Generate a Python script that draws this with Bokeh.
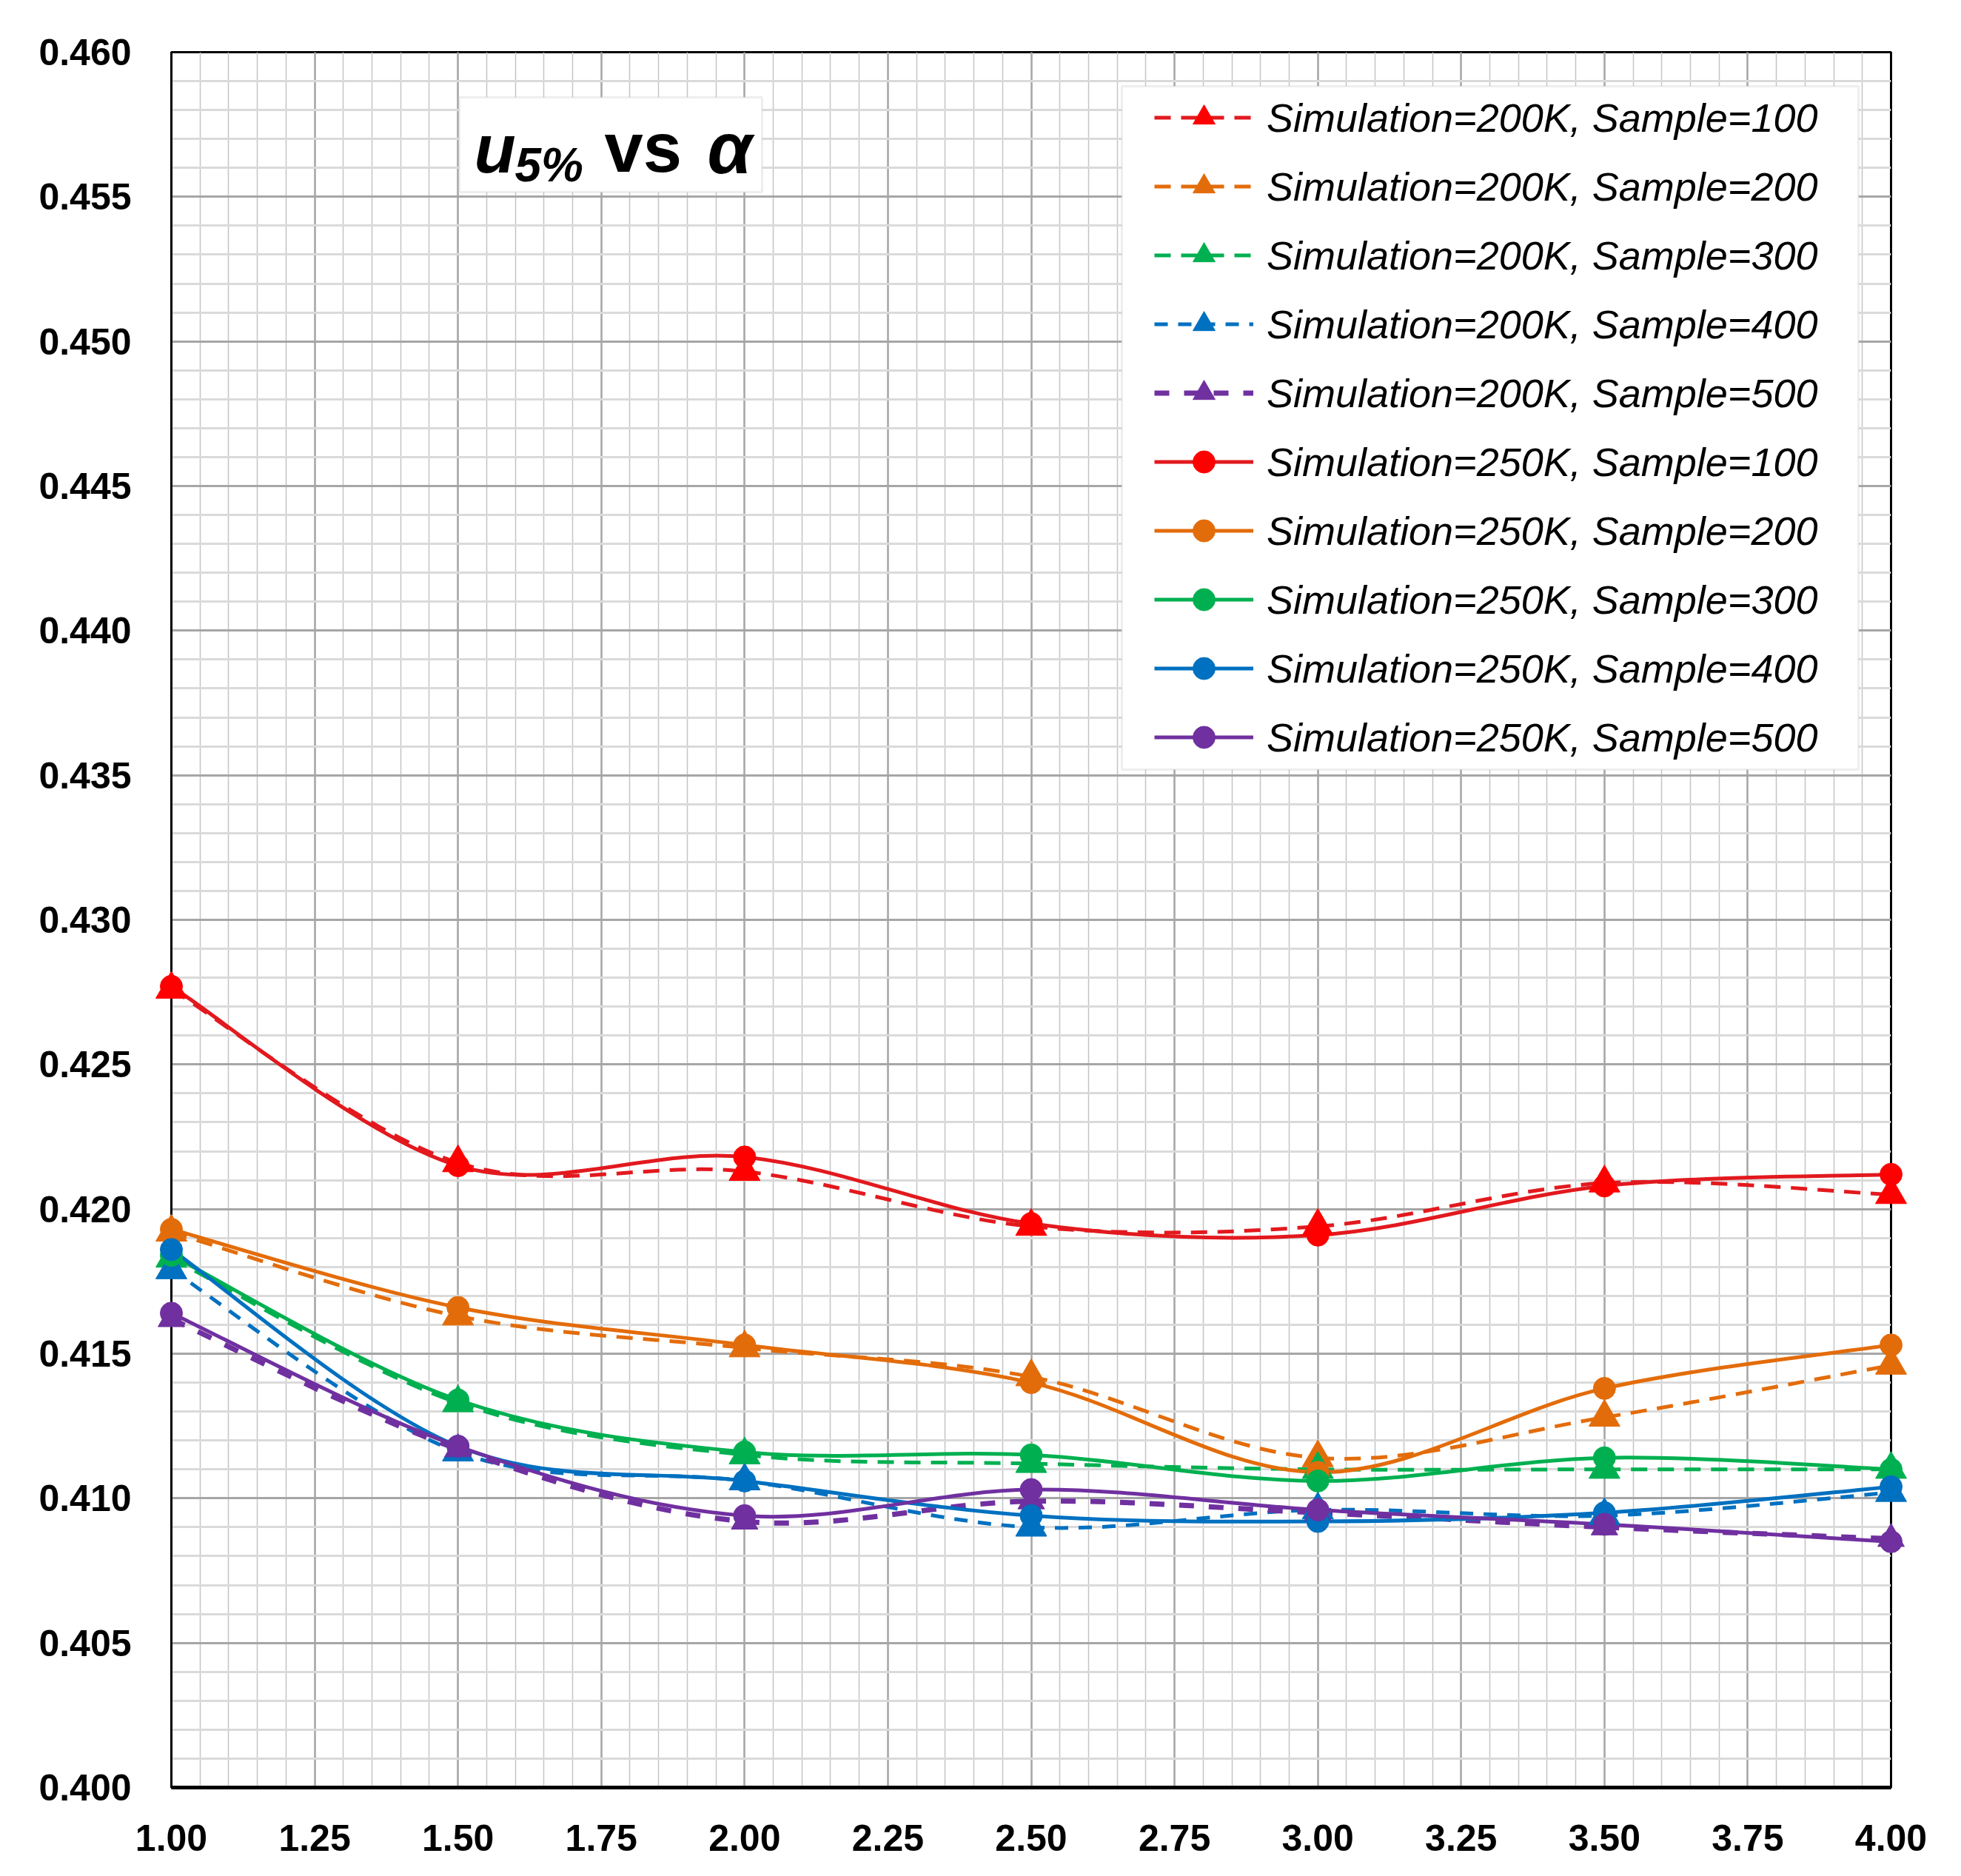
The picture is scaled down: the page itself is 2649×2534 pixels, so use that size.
import numpy as np
from bokeh.plotting import figure
from bokeh.models import (Range1d, FixedTicker, NumeralTickFormatter, Legend, LegendItem,
                          BoxAnnotation, Label, ColumnDataSource)
from bokeh.embed import file_html
from bokeh.resources import INLINE

# ---------------- data ----------------
alpha = [1.0, 1.5, 2.0, 2.5, 3.0, 3.5, 4.0]

sim200_s100 = [0.4276, 0.4216, 0.4213, 0.4194, 0.4194, 0.4209, 0.4205]
sim200_s200 = [0.4192, 0.4163, 0.4152, 0.4142, 0.4114, 0.4128, 0.4146]
sim200_s300 = [0.4183, 0.4133, 0.4115, 0.4112, 0.4110, 0.4110, 0.4110]
sim200_s400 = [0.4179, 0.4116, 0.4106, 0.4090, 0.4096, 0.4094, 0.4102]
sim200_s500 = [0.4162, 0.4117, 0.4092, 0.4099, 0.4095, 0.4090, 0.4086]

sim250_s100 = [0.4277, 0.4215, 0.4218, 0.4195, 0.4191, 0.4208, 0.4212]
sim250_s200 = [0.4193, 0.4166, 0.4153, 0.4140, 0.4109, 0.4138, 0.4153]
sim250_s300 = [0.4184, 0.4134, 0.4116, 0.4115, 0.4106, 0.4114, 0.4110]
sim250_s400 = [0.4186, 0.4118, 0.4106, 0.4094, 0.4092, 0.4095, 0.4104]
sim250_s500 = [0.4164, 0.4118, 0.4094, 0.4103, 0.4096, 0.4091, 0.4085]

labels = [
    "Simulation=200K, Sample=100", "Simulation=200K, Sample=200",
    "Simulation=200K, Sample=300", "Simulation=200K, Sample=400",
    "Simulation=200K, Sample=500", "Simulation=250K, Sample=100",
    "Simulation=250K, Sample=200", "Simulation=250K, Sample=300",
    "Simulation=250K, Sample=400", "Simulation=250K, Sample=500",
]

x_ticks = [1.00, 1.25, 1.50, 1.75, 2.00, 2.25, 2.50, 2.75, 3.00, 3.25, 3.50, 3.75, 4.00]
y_ticks = [0.400, 0.405, 0.410, 0.415, 0.420, 0.425, 0.430, 0.435, 0.440, 0.445,
           0.450, 0.455, 0.460]
x_minor = [round(v, 2) for v in np.arange(1.0, 4.0001, 0.05)]
y_minor = [round(v, 3) for v in np.arange(0.400, 0.4601, 0.001)]

# ---------------- styles ----------------
line_cols = ["#E2191E", "#E36C0A", "#00B050", "#0070C0", "#7030A0"]
mark_cols = ["#FF0000", "#E36C0A", "#00B050", "#0070C0", "#7030A0"]

series = [
    (labels[0], sim200_s100, 0, "triangle", "22 14", 5),
    (labels[1], sim200_s200, 1, "triangle", "22 14", 5),
    (labels[2], sim200_s300, 2, "triangle", "22 14", 5),
    (labels[3], sim200_s400, 3, "triangle", "18 14", 5),
    (labels[4], sim200_s500, 4, "triangle", "20 20", 7),
    (labels[5], sim250_s100, 0, "circle", "solid", 5),
    (labels[6], sim250_s200, 1, "circle", "solid", 5),
    (labels[7], sim250_s300, 2, "circle", "solid", 5),
    (labels[8], sim250_s400, 3, "circle", "solid", 5),
    (labels[9], sim250_s500, 4, "circle", "solid", 5),
]


def smooth_segments(xs, ys):
    """Excel-like smoothed line: cubic Bezier segments through the data points."""
    n = len(xs)
    d = dict(x0=[], y0=[], x1=[], y1=[], cx0=[], cy0=[], cx1=[], cy1=[])
    for i in range(n - 1):
        a = i - 1 if i > 0 else i
        b = i + 2 if i + 2 < n else i + 1
        d["x0"].append(xs[i]); d["y0"].append(ys[i])
        d["x1"].append(xs[i + 1]); d["y1"].append(ys[i + 1])
        d["cx0"].append(xs[i] + (xs[i + 1] - xs[a]) / 6.0)
        d["cy0"].append(ys[i] + (ys[i + 1] - ys[a]) / 6.0)
        d["cx1"].append(xs[i + 1] - (xs[b] - xs[i]) / 6.0)
        d["cy1"].append(ys[i + 1] - (ys[b] - ys[i]) / 6.0)
    return d


FONT = "Liberation Sans"

p = figure(frame_width=2323, frame_height=2344,
           min_border_left=231, min_border_top=70, min_border_right=80, min_border_bottom=100,
           x_range=Range1d(1.0, 4.0), y_range=Range1d(0.400, 0.460),
           output_backend="svg", toolbar_location=None,
           background_fill_color="white", border_fill_color="white")

p.outline_line_color = "black"
p.outline_line_width = 3

# axes
p.xaxis.ticker = FixedTicker(ticks=x_ticks, minor_ticks=x_minor)
p.yaxis.ticker = FixedTicker(ticks=y_ticks, minor_ticks=y_minor)
p.xaxis.formatter = NumeralTickFormatter(format="0.00")
p.yaxis.formatter = NumeralTickFormatter(format="0.000")
for ax in (p.xaxis, p.yaxis):
    ax.major_label_text_font = FONT
    ax.major_label_text_font_style = "bold"
    ax.major_label_text_font_size = "50px"
    ax.major_label_text_color = "black"
    ax.major_tick_line_color = None
    ax.minor_tick_line_color = None
    ax.axis_line_color = "black"
p.xaxis.axis_line_width = 5
p.yaxis.axis_line_width = 3
p.xaxis.major_label_standoff = 44
p.yaxis.major_label_standoff = 48

# grids
p.xgrid.grid_line_color = "#A6A6A6"
p.xgrid.grid_line_width = 2.5
p.xgrid.minor_grid_line_color = "#C4C4C4"
p.xgrid.minor_grid_line_width = 1.5
p.ygrid.grid_line_color = "#A6A6A6"
p.ygrid.grid_line_width = 3
p.ygrid.minor_grid_line_color = "#DADADA"
p.ygrid.minor_grid_line_width = 3

# series
items = []
for lab, vals, ci, marker, dash, lw in series:
    src = ColumnDataSource(smooth_segments(alpha, vals))
    p.bezier(x0="x0", y0="y0", x1="x1", y1="y1", cx0="cx0", cy0="cy0", cx1="cx1", cy1="cy1",
             source=src, line_color=line_cols[ci], line_width=lw, line_dash=dash)
    # legend-only line sample (no visible data)
    dummy = p.line(x=[np.nan], y=[np.nan], line_color=line_cols[ci], line_width=lw,
                   line_dash=dash)
    size = 42 if marker == "triangle" else 30
    if ci == 4 and marker == "triangle":
        size = 36
    sc = p.scatter(x=alpha, y=vals, marker=marker, size=size, fill_color=mark_cols[ci],
                   line_color=mark_cols[ci], line_width=1, level="overlay")
    items.append(LegendItem(label=lab, renderers=[dummy, sc]))

# legend frame
p.add_layout(BoxAnnotation(left=1284, right=2279, top=2298, bottom=1375,
                           left_units="screen", right_units="screen",
                           top_units="screen", bottom_units="screen",
                           fill_color="white", fill_alpha=1.0,
                           line_color="#C8C8C8", line_width=3))

legend = Legend(items=items, location=(1320, 1373),
                padding=8, spacing=18, glyph_width=134, glyph_height=75,
                label_height=75, label_standoff=18,
                label_text_font=FONT, label_text_font_style="italic",
                label_text_font_size="54px", label_text_color="black",
                border_line_alpha=0, background_fill_alpha=0)
p.add_layout(legend)

# title box
p.add_layout(BoxAnnotation(left=389, right=798, top=2283, bottom=2155,
                           left_units="screen", right_units="screen",
                           top_units="screen", bottom_units="screen",
                           fill_color="white", fill_alpha=1.0,
                           line_color="#C8C8C8", line_width=3))
title_parts = [
    ("u", 409, 2214, "92px", "bold italic"),
    ("5%", 464, 2192, "64px", "bold italic"),
    ("vs", 585, 2215, "94px", "bold"),
    ("α", 724, 2215, "98px", "bold italic"),
]
for txt, tx, ty, fs, st in title_parts:
    p.add_layout(Label(x=tx, y=ty, x_units="screen", y_units="screen", text=txt,
                       text_font=FONT, text_font_size=fs, text_font_style=st,
                       text_color="black", text_baseline="alphabetic", text_align="left"))

open("out.html", "w").write(file_html(p, INLINE))
